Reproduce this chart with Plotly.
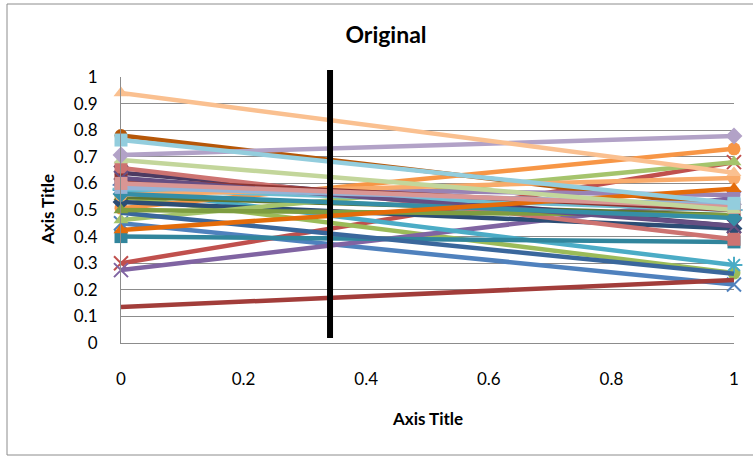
import plotly.graph_objects as go

x_vals = [0, 1]

colors = ["#4F81BD", "#C0504D", "#9BBB59", "#8064A2", "#4BACC6", "#F79646",
          "#2C4D75", "#A23D3A", "#5F7530", "#4D3B62", "#31859C", "#B65708",
          "#729ACA", "#CD7371", "#A5C46C", "#9983B5", "#6FBDD1", "#F9AB6B",
          "#3A679C", "#8E3532", "#7E9D40", "#664F83", "#358EA6", "#E46C0A",
          "#95B3D7", "#D99694", "#C3D69B", "#B2A2C7", "#93CDDD", "#FAC090"]
markers = ["x-thin", "x-thin", "circle", "x-thin", "asterisk", "circle",
           "diamond", "none", "triangle-up", "x-thin", "square", "circle",
           "asterisk", "square", "triangle-up", "circle", "asterisk", "circle",
           "none", "square", "triangle-up", "x-thin", "diamond", "triangle-up",
           "square", "square", "triangle-up", "diamond", "square", "triangle-up"]
left_vals = [0.45, 0.30, 0.55, 0.274, 0.575, 0.507,
             0.53, 0.135, 0.55, 0.64, 0.40, 0.78,
             0.594, 0.658, 0.462, 0.585, 0.58, 0.556,
             0.49, 0.613, 0.50, 0.62, 0.56, 0.425,
             0.585, 0.60, 0.688, 0.707, 0.763, 0.94]
right_vals = [0.22, 0.68, 0.263, 0.545, 0.293, 0.73,
              0.43, 0.237, 0.48, 0.44, 0.38, 0.51,
              0.50, 0.39, 0.68, 0.556, 0.50, 0.62,
              0.26, 0.50, 0.48, 0.44, 0.47, 0.58,
              0.52, 0.51, 0.50, 0.778, 0.525, 0.64]

divider_x = 0.341

fig = go.Figure()
for i in range(len(colors)):
    sym = markers[i]
    thin = sym in ("x-thin", "asterisk")
    if sym == "none":
        mode = "lines"
        mk = None
    else:
        mode = "lines+markers"
        mk = dict(symbol=sym, size=13 if not thin else 14, color=colors[i],
                  line=dict(color=colors[i], width=2 if thin else 0))
    fig.add_trace(go.Scatter(
        x=x_vals, y=[left_vals[i], right_vals[i]],
        mode=mode,
        line=dict(color=colors[i], width=4.5),
        marker=mk,
        cliponaxis=False, showlegend=False,
        name="Series%d" % (i + 1)))

fig.add_shape(type="line", xref="x", yref="paper",
              x0=divider_x, x1=divider_x, y0=0.019, y1=1.026,
              line=dict(color="black", width=6), layer="above")

# chart border
L, T, W, H = 121, 77, 613, 266
def px_x(p): return (p - L) / W
def px_y(p): return (T + H - p) / H
fig.add_shape(type="rect", xref="paper", yref="paper",
              x0=px_x(7), x1=px_x(760), y0=px_y(455), y1=px_y(4),
              line=dict(color="#8C8C8C", width=1), layer="below")

font_family = "Lato, 'Open Sans', sans-serif"
fig.update_layout(
    width=753, height=456,
    margin=dict(l=L, r=753 - L - W, t=T, b=456 - T - H),
    paper_bgcolor="white", plot_bgcolor="white",
    font=dict(family=font_family, size=17, color="black"),
    title=dict(text="<b>Original</b>", x=(386) / 753, xanchor="center",
               y=1 - 35 / 456, yanchor="middle",
               font=dict(size=23, family=font_family, color="black")),
    xaxis=dict(range=[0, 1], tickvals=[0, 0.2, 0.4, 0.6, 0.8, 1],
               ticktext=["0", "0.2", "0.4", "0.6", "0.8", "1"],
               showgrid=False, zeroline=False, showline=True,
               linecolor="#8C8C8C", linewidth=1, ticks="",
               ticklabelstandoff=21, tickfont=dict(size=17)),
    yaxis=dict(range=[0, 1], tickvals=[i / 10 for i in range(11)],
               ticktext=["0", "0.1", "0.2", "0.3", "0.4", "0.5", "0.6", "0.7", "0.8", "0.9", "1"],
               showgrid=True, gridcolor="#8C8C8C", gridwidth=1,
               zeroline=False, showline=True, linecolor="#8C8C8C", linewidth=1,
               ticks="", ticklabelstandoff=19, tickfont=dict(size=17)),
    annotations=[
        dict(text="<b>Axis Title</b>", xref="paper", yref="paper",
             x=0.5, y=px_y(418), xanchor="center", yanchor="middle",
             showarrow=False, font=dict(size=17)),
        dict(text="<b>Axis Title</b>", xref="paper", yref="paper",
             x=px_x(47), y=0.5, xanchor="center", yanchor="middle",
             textangle=-90, showarrow=False, font=dict(size=17)),
    ],
)

fig.write_html("out.html")
